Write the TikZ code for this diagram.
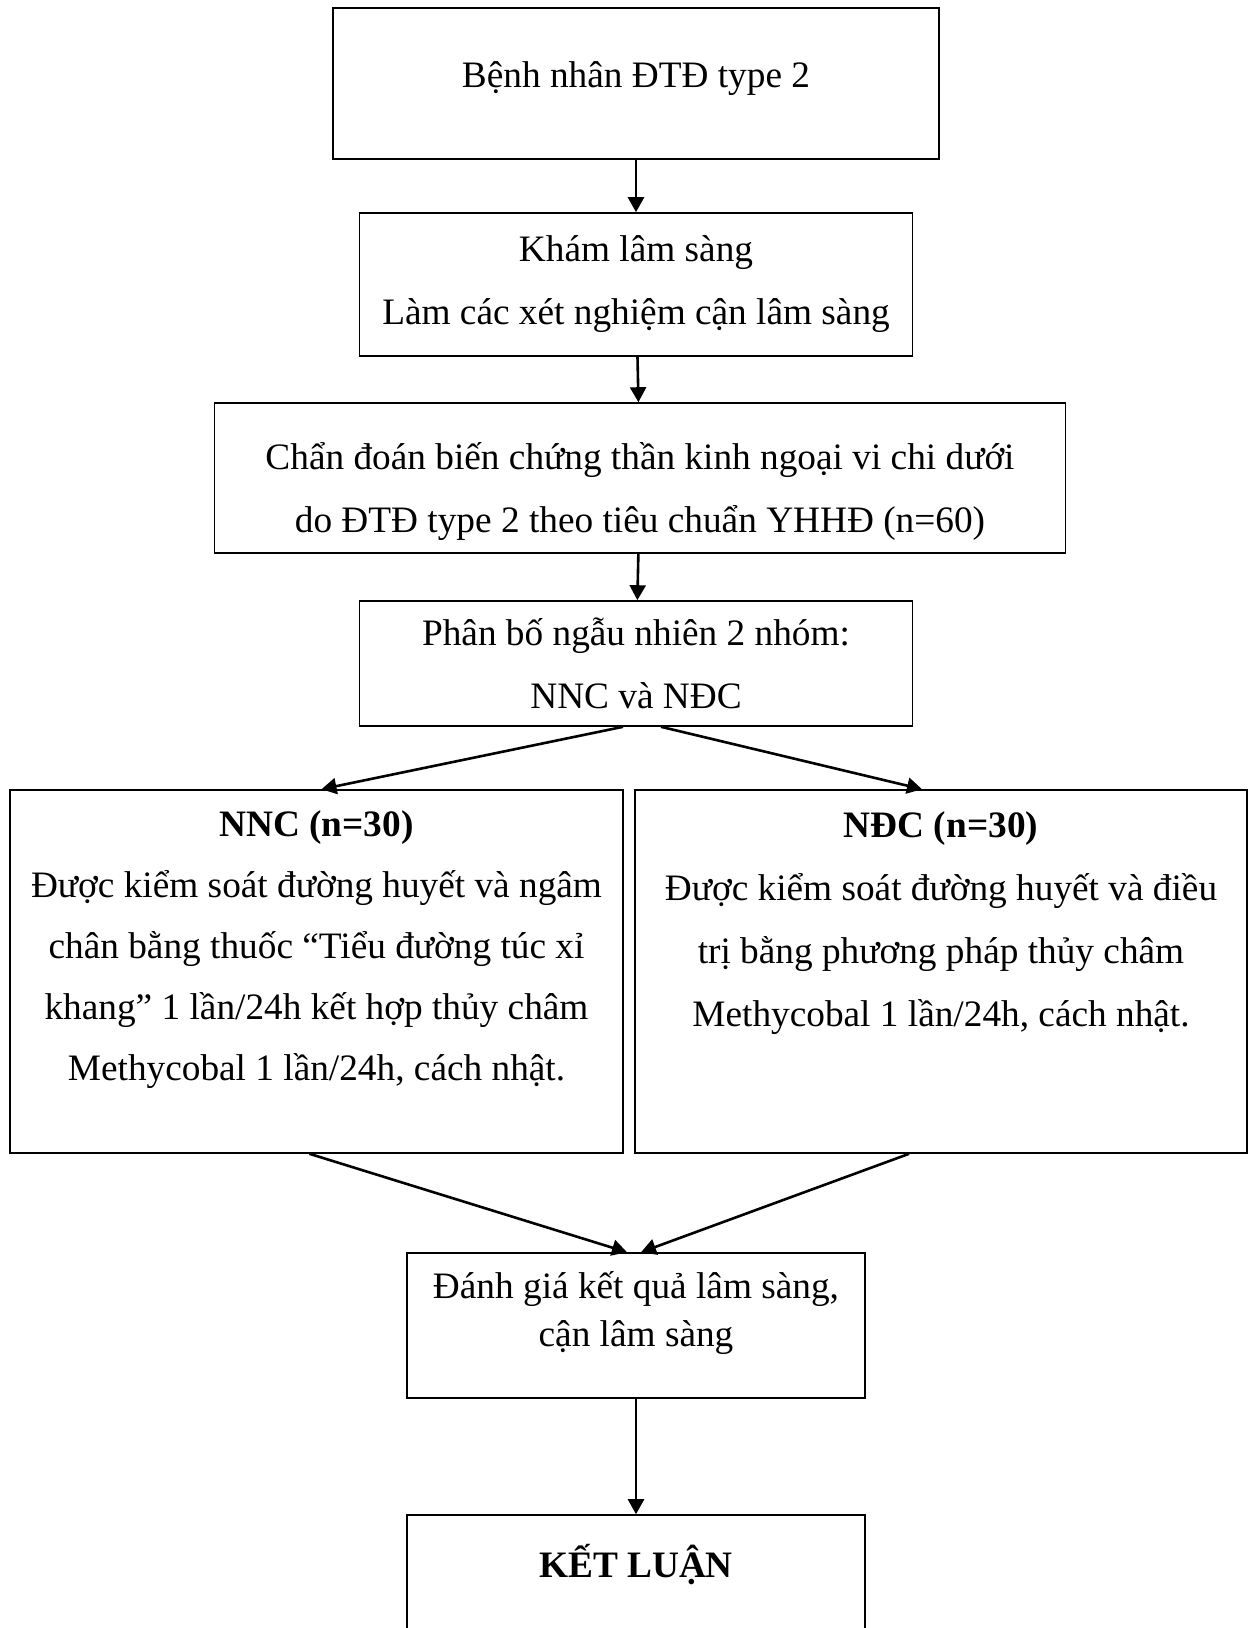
\documentclass[tikz,border=0pt]{standalone}
\usepackage{fontspec}
\setmainfont{Liberation Serif}
\usetikzlibrary{arrows.meta}

\begin{document}
\begin{tikzpicture}[x=1pt,y=-1pt]
    \useasboundingbox (0,0) rectangle (1253,1628);

        \begin{scope}[every node/.style={draw,line width=1.6pt,align=center,font=\fontsize{37.3}{63}\selectfont}]
            \node[minimum width=606pt,minimum height=151pt] (benhnhan) at (636,83.5) {Bệnh nhân ĐTĐ type 2\\[-45pt]\mbox{}};
            \node[minimum width=553pt,minimum height=143pt] (kham) at (636,284.5) {Khám lâm sàng\\Làm các xét nghiệm cận lâm sàng};
            \node[minimum width=851pt,minimum height=150pt] (chandoan) at (640,478) {\mbox{}\\[-9pt]Chẩn đoán biến chứng thần kinh ngoại vi chi dưới\\do ĐTĐ type 2 theo tiêu chuẩn YHHĐ (n=60)};
            \node[minimum width=553pt,minimum height=125pt] (phanbo) at (636,663.5) {Phân bố ngẫu nhiên 2 nhóm:\\NNC và NĐC};
            \node[minimum width=613pt,minimum height=363pt,font=\fontsize{37.3}{61}\selectfont] (nnc) at (316.5,971.5) {\textbf{NNC (n=30)}\\Được kiểm soát đường huyết và ngâm\\chân bằng thuốc “Tiểu đường túc xỉ\\khang” 1 lần/24h kết hợp thủy châm\\Methycobal 1 lần/24h, cách nhật.\\[-10pt]\mbox{}};
            \node[minimum width=612pt,minimum height=363pt] (ndc) at (941,971.5) {\textbf{NĐC (n=30)}\\Được kiểm soát đường huyết và điều\\trị bằng phương pháp thủy châm\\Methycobal 1 lần/24h, cách nhật.\\[42pt]\mbox{}};
            \node[minimum width=458pt,minimum height=145pt,font=\fontsize{37.3}{48}\selectfont] (danhgia) at (636,1325.5) {Đánh giá kết quả lâm sàng,\\cận lâm sàng\\[-15pt]\mbox{}};
            \node[minimum width=458pt,minimum height=200pt] (ketluan) at (636,1615) {\textbf{KẾT LUẬN}\\[45pt]\mbox{}};
        \end{scope}

        \begin{scope}[every edge/.style={draw,line width=2.6pt}]
            \path [-{Triangle[length=15pt,width=16pt]}] (benhnhan) edge (kham);
            \path [-{Triangle[length=15pt,width=16pt]}] (kham) edge (chandoan);
            \path [-{Triangle[length=15pt,width=16pt]}] (chandoan) edge (phanbo);

            \path [-{Triangle[length=15pt,width=16pt]}] ([xshift=-13pt]phanbo.south) edge ([xshift=5pt]nnc.north);
            \path [-{Triangle[length=15pt,width=16pt]}] ([xshift=25pt]phanbo.south) edge ([xshift=-19pt]ndc.north);

            \path [-{Triangle[length=15pt,width=16pt]}] ([xshift=-7pt]nnc.south) edge ([xshift=-9pt]danhgia.north);
            \path [-{Triangle[length=15pt,width=16pt]}] ([xshift=-32pt]ndc.south) edge ([xshift=5pt]danhgia.north);

            \path [-{Triangle[length=15pt,width=16pt]}] (danhgia) edge (ketluan);
        \end{scope}

    \end{tikzpicture}
\end{document}
